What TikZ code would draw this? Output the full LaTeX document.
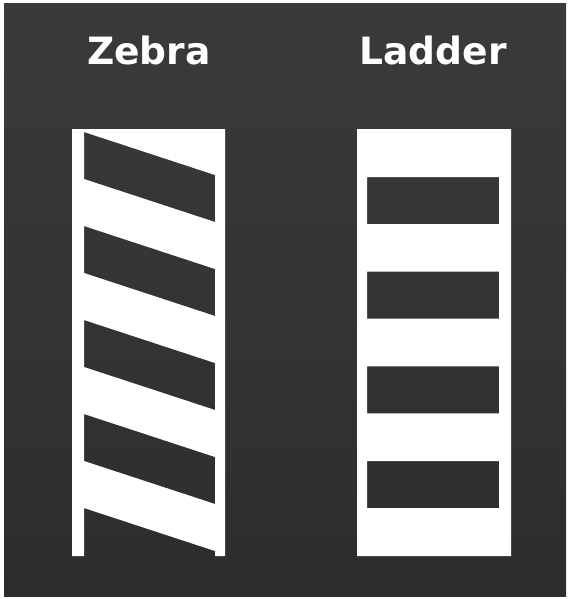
\documentclass[tikz,border=0pt]{standalone}
\usepackage{fontspec}
\setmainfont{DejaVu Sans}
\begin{document}
\begin{tikzpicture}[x=1pt,y=-1pt,
  title/.style={font=\fontsize{37.6}{40}\selectfont\bfseries, text=white, anchor=base, inner sep=0pt}]
\useasboundingbox (0,0) rectangle (569,599);
\fill[white] (0,0) rectangle (569,599);
\shade[top color={rgb,255:red,58;green,58;blue,58}, bottom color={rgb,255:red,44;green,46;blue,46}] (4,4) rectangle (566,596);
% titles
\node[title] (zebra) at (149,65) {Zebra};
\node[title] (ladder) at (433,65) {Ladder};
% zebra frame with holes
\fill[white, even odd rule] (72,129) -- (225,129) -- (225,556) -- (215,556) -- (215,551) -- (84,508) -- (84,556) -- (72,556) -- cycle
  \foreach \k in {0,1,2,3} {
    (84,132+94*\k) -- (215,175+94*\k) -- (215,222+94*\k) -- (84,179+94*\k) -- cycle
  };
% ladder frame with holes
\fill[white, even odd rule] (357,129) rectangle (511,556)
  \foreach \k in {0,1,2,3} {
    (367,177+94.7*\k) rectangle (499,224+94.7*\k)
  };
\end{tikzpicture}
\end{document}
